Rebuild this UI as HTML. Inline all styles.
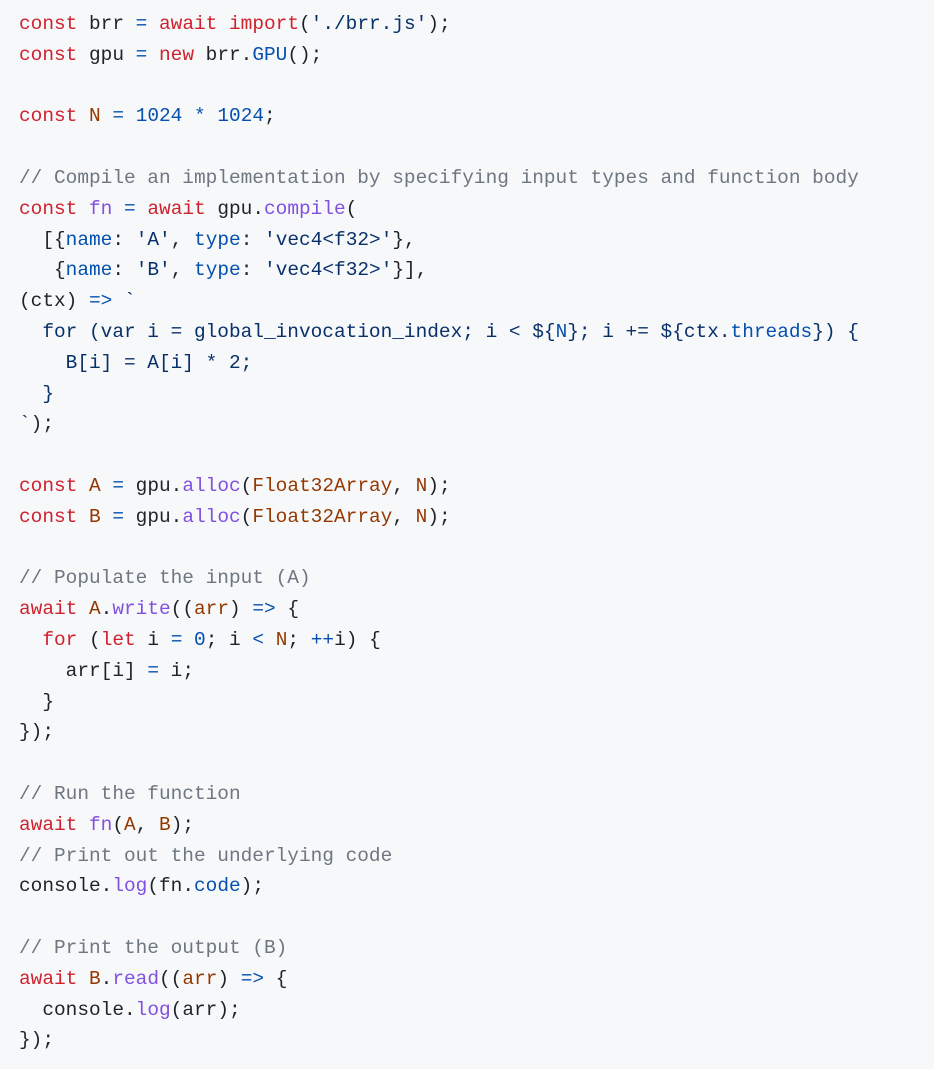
<!DOCTYPE html>
<html><head><meta charset="utf-8"><style>
html,body{margin:0;padding:0;background:#f6f8fa;width:934px;height:1069px;overflow:hidden}
pre{margin:0;padding:9px 0 0 19px;font-family:"Liberation Mono","DejaVu Sans Mono",monospace;font-size:19.45px;line-height:30.8px;color:#1f2328;white-space:pre}
.k{color:#cf222e}.c{color:#0550ae}.s{color:#0a3069}.m{color:#6e7781}.f{color:#8250df}.v{color:#953800}
</style></head><body><pre><span class="k">const</span> brr <span class="c">=</span> <span class="k">await</span> <span class="k">import</span>(<span class="s">'./brr.js'</span>);
<span class="k">const</span> gpu <span class="c">=</span> <span class="k">new</span> brr.<span class="c">GPU</span>();

<span class="k">const</span> <span class="v">N</span> <span class="c">=</span> <span class="c">1024</span> <span class="c">*</span> <span class="c">1024</span>;

<span class="m">// Compile an implementation by specifying input types and function body</span>
<span class="k">const</span> <span class="f">fn</span> <span class="c">=</span> <span class="k">await</span> gpu.<span class="f">compile</span>(
  [{<span class="c">name</span>: <span class="s">'A'</span>, <span class="c">type</span>: <span class="s">'vec4&lt;f32&gt;'</span>},
   {<span class="c">name</span>: <span class="s">'B'</span>, <span class="c">type</span>: <span class="s">'vec4&lt;f32&gt;'</span>}],
(ctx) <span class="c">=&gt;</span> <span class="s">`</span>
<span class="s">  for (var i = global_invocation_index; i &lt; ${</span><span class="c">N</span><span class="s">}; i += ${ctx.</span><span class="c">threads</span><span class="s">}) {</span>
<span class="s">    B[i] = A[i] * 2;</span>
<span class="s">  }</span>
<span class="s">`</span>);

<span class="k">const</span> <span class="v">A</span> <span class="c">=</span> gpu.<span class="f">alloc</span>(<span class="v">Float32Array</span>, <span class="v">N</span>);
<span class="k">const</span> <span class="v">B</span> <span class="c">=</span> gpu.<span class="f">alloc</span>(<span class="v">Float32Array</span>, <span class="v">N</span>);

<span class="m">// Populate the input (A)</span>
<span class="k">await</span> <span class="v">A</span>.<span class="f">write</span>((<span class="v">arr</span>) <span class="c">=&gt;</span> {
  <span class="k">for</span> (<span class="k">let</span> i <span class="c">=</span> <span class="c">0</span>; i <span class="c">&lt;</span> <span class="v">N</span>; <span class="c">++</span>i) {
    arr[i] <span class="c">=</span> i;
  }
});

<span class="m">// Run the function</span>
<span class="k">await</span> <span class="f">fn</span>(<span class="v">A</span>, <span class="v">B</span>);
<span class="m">// Print out the underlying code</span>
console.<span class="f">log</span>(fn.<span class="c">code</span>);

<span class="m">// Print the output (B)</span>
<span class="k">await</span> <span class="v">B</span>.<span class="f">read</span>((<span class="v">arr</span>) <span class="c">=&gt;</span> {
  console.<span class="f">log</span>(arr);
});</pre></body></html>
